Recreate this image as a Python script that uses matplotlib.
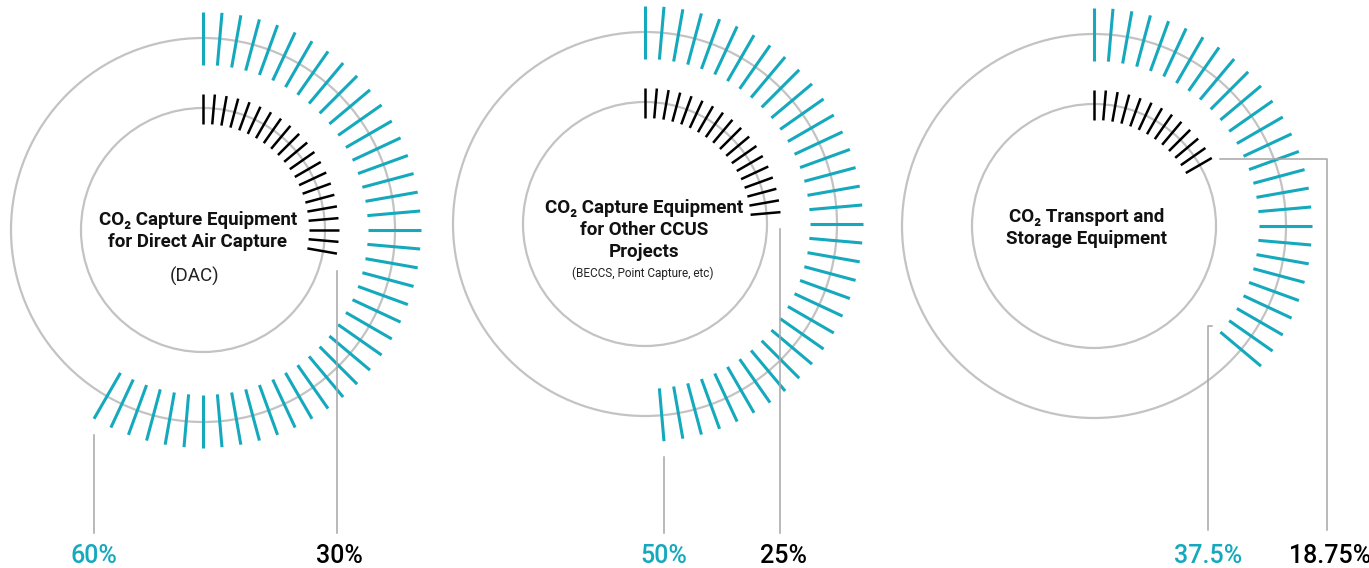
import numpy as np
import matplotlib.pyplot as plt
from matplotlib.patches import Circle
from matplotlib.collections import LineCollection

# share of equipment, outer ring (teal) and inner ring (black), in percent
titles = [
    "CO₂ Capture Equipment\nfor Direct Air Capture",
    "CO₂ Capture Equipment\nfor Other CCUS\nProjects",
    "CO₂ Transport and\nStorage Equipment",
]
notes = ["(DAC)", "(BECCS, Point Capture, etc)", ""]
outer_pct = [60, 50, 37.5]
inner_pct = [30, 25, 18.75]
pct_labels_outer = ["60%", "50%", "37.5%"]
pct_labels_inner = ["30%", "25%", "18.75%"]

TEAL = "#15a9bd"
RING = "#c3c3c3"
LEAD = "#a6a6a6"
TICKS_PER_TURN = 72

plt.rcParams['font.family'] = ['Roboto', 'DejaVu Sans']

# pixel-based layout
centers = [(203, 230), (645, 224), (1094, 226)]
R_OUT, R_IN = 192, 122
OUT_SPAN = (165, 218)
IN_SPAN = (106, 136)
LABEL_Y = 556
LINE_END = 533


def polar(c, r, deg):
    t = np.deg2rad(deg)
    return c[0] + r * np.sin(t), c[1] - r * np.cos(t)


def tick_segments(c, pct, span):
    n = int(pct / 100 * TICKS_PER_TURN)
    angles = np.arange(n) * 360 / TICKS_PER_TURN
    segs = [[polar(c, span[0], a), polar(c, span[1], a)] for a in angles]
    return segs, angles[-1]


fig = plt.figure(figsize=(13.69, 5.68), dpi=100)
ax = fig.add_axes([0, 0, 1, 1])
ax.set_xlim(0, 1369)
ax.set_ylim(568, 0)
ax.axis('off')

for i, c in enumerate(centers):
    for r in (R_OUT, R_IN):
        ax.add_patch(Circle(c, r, fill=False, ec=RING, lw=1.6, zorder=1))

    segs, a_out = tick_segments(c, outer_pct[i], OUT_SPAN)
    ax.add_collection(LineCollection(segs, colors=TEAL, linewidths=2.2, zorder=2))
    segs, a_in = tick_segments(c, inner_pct[i], IN_SPAN)
    ax.add_collection(LineCollection(segs, colors='black', linewidths=1.8, zorder=2))

    # leader lines from the end of each ring down to the value labels
    if i < 2:
        x, y = polar(c, OUT_SPAN[1], a_out)
        ax.plot([x, x], [y + 16, LINE_END], color=LEAD, lw=1.1)
        lx_out = x
        x, y = polar(c, IN_SPAN[1], a_in)
        ax.plot([x, x], [y + 17, LINE_END], color=LEAD, lw=1.1)
        lx_in = x
    else:
        x, y = polar(c, OUT_SPAN[0], a_out)
        ax.plot([x - 8, x - 12, x - 12], [y - 6, y - 6, LINE_END - 3], color=LEAD, lw=1.1)
        lx_out = x - 12
        x, y = polar(c, IN_SPAN[1], a_in)
        lx_in = c[0] + 233
        ax.plot([x + 8, lx_in, lx_in], [y + 1, y + 1, LINE_END - 3], color=LEAD, lw=1.1)

    ax.text(lx_out, LABEL_Y, pct_labels_outer[i], color=TEAL, fontsize=18,
            fontweight='medium', ha='center', va='center')
    ax.text(lx_in + 3, LABEL_Y, pct_labels_inner[i], color='black', fontsize=18,
            fontweight='medium', ha='center', va='center')

# centre captions
title_pos = [(198, 231), (644, 230), (1087, 228)]
note_pos = [(195, 276), (643, 273)]
for i, (tx, ty) in enumerate(title_pos):
    ax.text(tx, ty, titles[i], ha='center', va='center', fontsize=13.5,
            fontweight='bold', linespacing=1.3, color='#111111')
    if notes[i]:
        ax.text(note_pos[i][0], note_pos[i][1], notes[i], ha='center', va='center',
                fontsize=13.5 if i == 0 else 8.5, color='#222222')

fig.savefig('out.png', dpi=100)
